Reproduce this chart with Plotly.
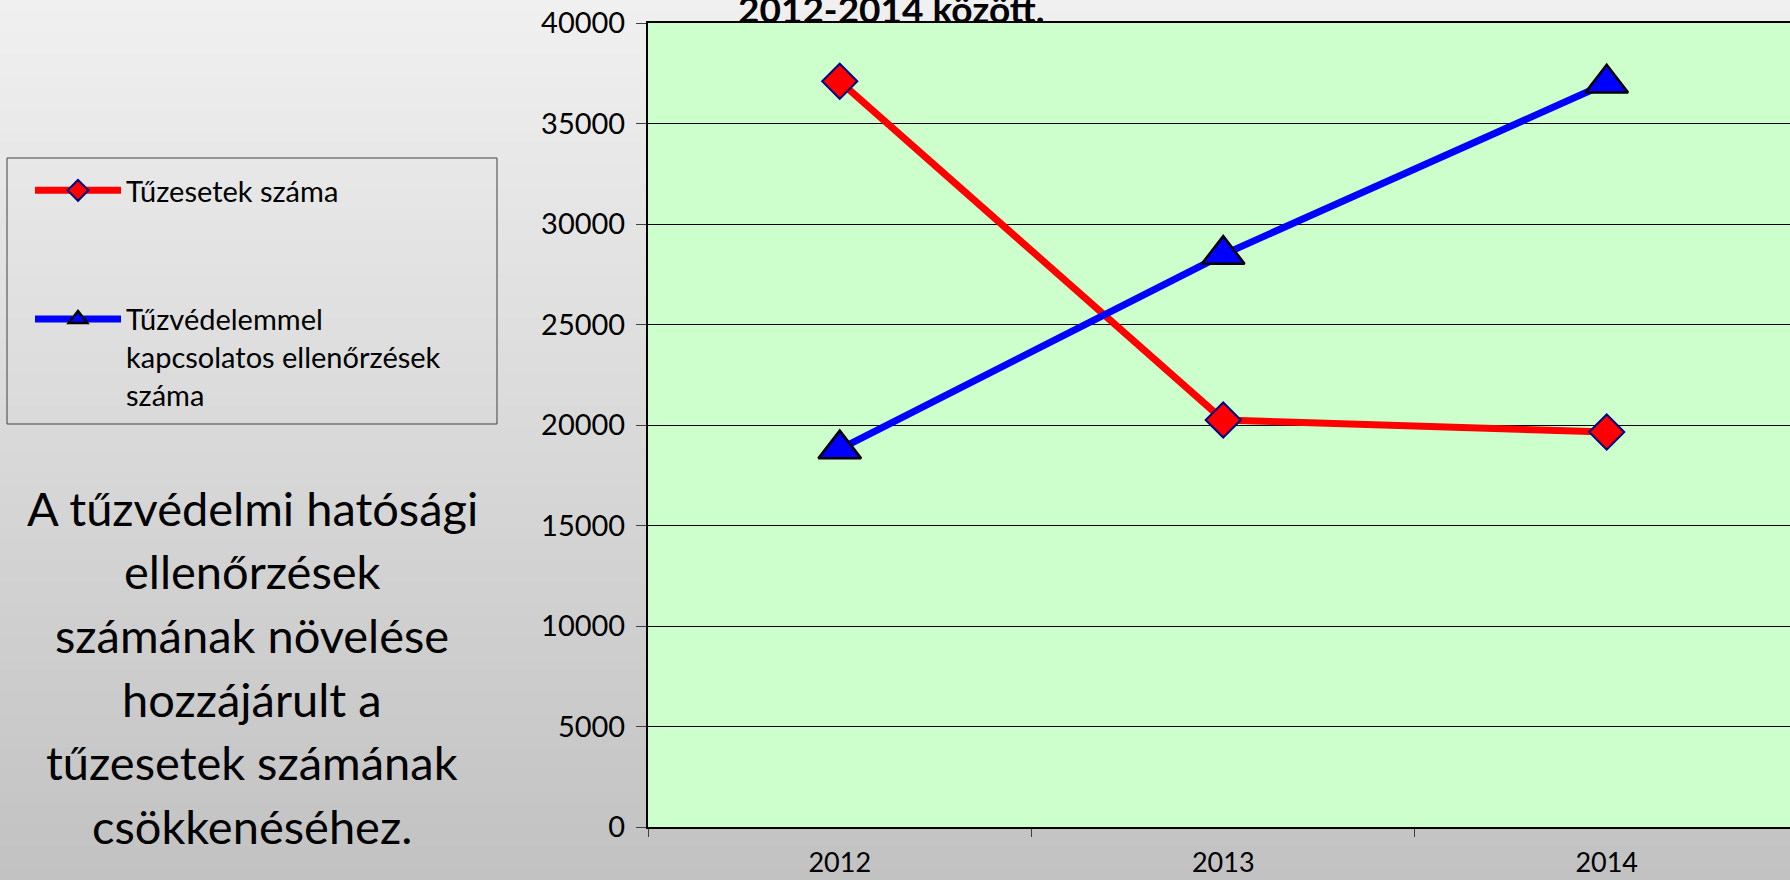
import plotly.graph_objects as go

years = ["2012", "2013", "2014"]
fires = [37100, 20250, 19650]
inspections = [18800, 28480, 37000]
series_names = ["Tűzesetek száma", "Tűzvédelemmel<br>kapcsolatos ellenőrzések<br>száma"]
y_ticks = [0, 5000, 10000, 15000, 20000, 25000, 30000, 35000, 40000]
title_text = "2012-2014 között."
note_lines = ["A tűzvédelmi hatósági", "ellenőrzések", "számának növelése",
              "hozzájárult a", "tűzesetek számának", "csökkenéséhez."]

FONT = "Lato, 'Noto Sans', sans-serif"
W, H = 1790, 880
L, R, T, B = 648, 0, 23, 53
PW, PH = W - L - R, H - T - B


def px_x(x):
    return (x - L) / PW


def px_y(y):
    return ((H - B) - y) / PH


fig = go.Figure()
fig.add_trace(go.Scatter(
    x=years, y=fires, name=series_names[0], mode="lines+markers",
    line=dict(color="#FF0000", width=7),
    marker=dict(symbol="diamond", size=27, color="#FF0000",
                line=dict(color="#000080", width=2)),
    legendgroup="a"))
fig.add_trace(go.Scatter(
    x=years, y=inspections, name=series_names[1], mode="lines+markers",
    line=dict(color="#0000FF", width=7),
    marker=dict(symbol="triangle-up", size=37, color="#0000FF",
                line=dict(color="#000000", width=2.5)),
    legendgroup="b"))

# gradient background strips
shapes = []
n = 80
top_c = (0xF0, 0xF0, 0xF0)
bot_c = (0xC2, 0xC2, 0xC2)
for i in range(n):
    t = i / (n - 1)
    c = tuple(int(round(top_c[k] + (bot_c[k] - top_c[k]) * t)) for k in range(3))
    ya = i * H / n
    yb = (i + 1) * H / n
    shapes.append(dict(type="rect", xref="paper", yref="paper",
                       x0=px_x(-5), x1=px_x(W + 5), y0=px_y(yb + 1), y1=px_y(ya - 1),
                       fillcolor="rgb(%d,%d,%d)" % c, line=dict(width=0), layer="below"))
shapes.append(dict(type="rect", xref="x domain", yref="y domain", x0=0, x1=1, y0=0, y1=1,
                   fillcolor="#CCFFCC", line=dict(width=0), layer="below"))
# legend frame
shapes.append(dict(type="rect", xref="paper", yref="paper",
                   x0=px_x(7), x1=px_x(497), y0=px_y(424), y1=px_y(158),
                   fillcolor="rgba(0,0,0,0)", line=dict(color="#404040", width=1),
                   layer="below"))

annotations = []
annotations.append(dict(text="<b>" + title_text + "</b>", xref="paper", yref="paper",
                        x=px_x(891), y=1, xanchor="center", yanchor="bottom",
                        yshift=-10, showarrow=False, font=dict(family=FONT, size=37, color="#000")))
note_y = [508, 571, 635, 699, 762, 826]
for line, yp in zip(note_lines, note_y):
    annotations.append(dict(text=line, xref="paper", yref="paper",
                            x=px_x(252), y=px_y(yp),
                            xanchor="center", yanchor="middle", showarrow=False,
                            font=dict(family=FONT, size=47, color="#000")))

fig.update_layout(
    width=W, height=H,
    margin=dict(l=L, r=R, t=T, b=B, pad=0, autoexpand=False),
    paper_bgcolor="#C8C8C8",
    plot_bgcolor="rgba(0,0,0,0)",
    font=dict(family=FONT, color="#000"),
    shapes=shapes, annotations=annotations,
    legend=dict(x=px_x(30), y=px_y(165),
                xanchor="left", yanchor="top", bgcolor="rgba(0,0,0,0)",
                borderwidth=0,
                font=dict(family=FONT, size=29, color="#000"),
                traceorder="grouped", tracegroupgap=88, itemwidth=86,
                valign="top"),
    xaxis=dict(type="category", range=[-0.5, 2.478], showline=True, linecolor="#000",
               linewidth=2, mirror=True, ticks="outside", tickson="boundaries",
               ticklen=8, tickcolor="#404040", showgrid=False, automargin=False,
               tickfont=dict(family=FONT, size=27, color="#000"),
               ticklabelstandoff=11),
    yaxis=dict(range=[0, 40000], tickvals=y_ticks, tickformat="d", showline=True,
               linecolor="#000", linewidth=2, ticks="outside", ticklen=10,
               tickcolor="#404040", showgrid=True, gridcolor="#000", gridwidth=1,
               zeroline=False, automargin=False,
               tickfont=dict(family=FONT, size=29, color="#000"),
               ticklabelstandoff=5),
)
fig.write_html("out.html", config={"displayModeBar": False},
               post_script=("document.documentElement.style.overflow='hidden';"
                            "document.body.style.overflow='hidden';"
                            "document.body.style.margin='0';"))
